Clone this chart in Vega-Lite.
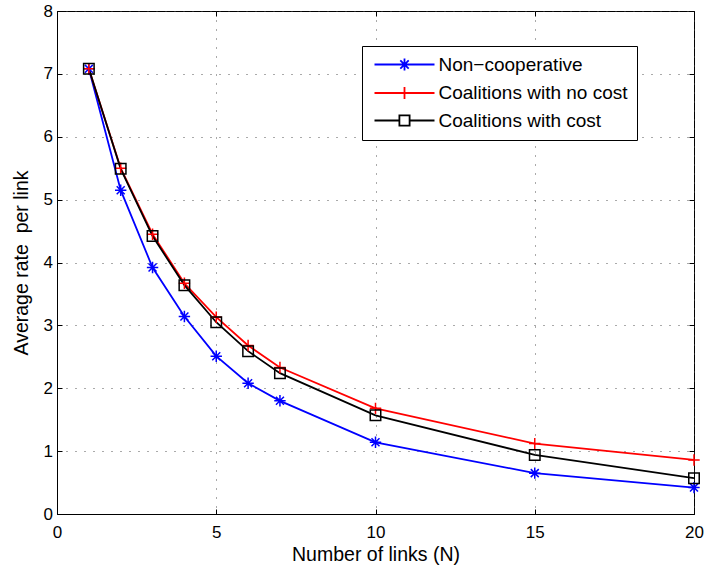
{
  "$schema": "https://vega.github.io/schema/vega-lite/v6.json",
  "width": 637,
  "height": 503,
  "autosize": {"type": "none"},
  "padding": {"left": 57, "top": 11, "right": 11, "bottom": 53},
  "background": "white",
  "config": {
    "font": "Liberation Sans",
    "view": {"stroke": "black", "strokeWidth": 1},
    "axis": {
      "domainColor": "black",
      "tickColor": "black",
      "labelColor": "black",
      "titleColor": "black",
      "labelFont": "Liberation Sans",
      "titleFont": "Liberation Sans",
      "labelFontSize": 17,
      "titleFontSize": 19.5,
      "titleFontWeight": "normal",
      "labelFlush": false,
      "tickSize": -5,
      "gridColor": "#444444",
      "gridDash": [1, 8],
      "gridWidth": 1,
      "gridOpacity": 0.9
    }
  },
  "data": {
    "values": [
      {"n": 1, "rate": 7.08, "series": "Non−cooperative"},
      {"n": 2, "rate": 5.15, "series": "Non−cooperative"},
      {"n": 3, "rate": 3.92, "series": "Non−cooperative"},
      {"n": 4, "rate": 3.14, "series": "Non−cooperative"},
      {"n": 5, "rate": 2.51, "series": "Non−cooperative"},
      {"n": 6, "rate": 2.08, "series": "Non−cooperative"},
      {"n": 7, "rate": 1.80, "series": "Non−cooperative"},
      {"n": 10, "rate": 1.14, "series": "Non−cooperative"},
      {"n": 15, "rate": 0.65, "series": "Non−cooperative"},
      {"n": 20, "rate": 0.42, "series": "Non−cooperative"},
      {"n": 1, "rate": 7.08, "series": "Coalitions with no cost"},
      {"n": 2, "rate": 5.50, "series": "Coalitions with no cost"},
      {"n": 3, "rate": 4.45, "series": "Coalitions with no cost"},
      {"n": 4, "rate": 3.67, "series": "Coalitions with no cost"},
      {"n": 5, "rate": 3.13, "series": "Coalitions with no cost"},
      {"n": 6, "rate": 2.68, "series": "Coalitions with no cost"},
      {"n": 7, "rate": 2.33, "series": "Coalitions with no cost"},
      {"n": 10, "rate": 1.68, "series": "Coalitions with no cost"},
      {"n": 15, "rate": 1.12, "series": "Coalitions with no cost"},
      {"n": 20, "rate": 0.86, "series": "Coalitions with no cost"},
      {"n": 1, "rate": 7.08, "series": "Coalitions with cost"},
      {"n": 2, "rate": 5.49, "series": "Coalitions with cost"},
      {"n": 3, "rate": 4.42, "series": "Coalitions with cost"},
      {"n": 4, "rate": 3.64, "series": "Coalitions with cost"},
      {"n": 5, "rate": 3.05, "series": "Coalitions with cost"},
      {"n": 6, "rate": 2.59, "series": "Coalitions with cost"},
      {"n": 7, "rate": 2.24, "series": "Coalitions with cost"},
      {"n": 10, "rate": 1.57, "series": "Coalitions with cost"},
      {"n": 15, "rate": 0.94, "series": "Coalitions with cost"},
      {"n": 20, "rate": 0.57, "series": "Coalitions with cost"}
    ]
  },
  "resolve": {"axis": {"x": "independent", "y": "independent"}},
  "layer": [
    {
      "layer": [
        {
          "mark": {"type": "line", "strokeWidth": 1.8, "clip": true},
          "encoding": {
            "x": {
              "field": "n", "type": "quantitative",
              "scale": {"domain": [0, 20], "nice": false},
              "axis": {"values": [0, 5, 10, 15, 20], "format": "d", "title": "Number of links (N)", "labelPadding": 15, "titlePadding": 5, "grid": true}
            },
            "y": {
              "field": "rate", "type": "quantitative",
              "scale": {"domain": [0, 8], "nice": false},
              "axis": {"values": [0, 1, 2, 3, 4, 5, 6, 7, 8], "format": "d", "title": "Average rate\u00a0 per link", "labelPadding": 9.5, "titlePadding": 12, "grid": true}
            },
            "color": {
              "field": "series", "type": "nominal",
              "scale": {
                "domain": ["Non−cooperative", "Coalitions with no cost", "Coalitions with cost"],
                "range": ["#0000ff", "#ff0000", "#000000"]
              },
              "legend": {
                "orient": "none",
                "legendX": 305,
                "legendY": 35,
                "title": null,
                "fillColor": "white",
                "strokeColor": "black",
                "padding": 9,
                "labelFont": "Liberation Sans",
                "labelFontSize": 19,
                "labelColor": "black",
                "labelLimit": 400,
                "labelOffset": 48.5,
                "rowPadding": 7.5,
                "symbolSize": 144,
                "symbolStrokeWidth": 1.8,
                "encode": {
                  "symbols": {
                    "update": {
                      "shape": {"signal": "datum.value === 'Non−cooperative' ? 'M-1,0H9M3,0H5M4,-1V1M3.3,-0.7L4.7,0.7M3.3,0.7L4.7,-0.7' : datum.value === 'Coalitions with no cost' ? 'M-1,0H9M4,-1V1' : 'M-1,0H3.15M4.85,0H9M3.15,-0.85H4.85V0.85H3.15Z'"},
                      "fill": {"value": "transparent"},
                      "strokeWidth": {"value": 1.8}
                    }
                  }
                }
              }
            }
          }
        },
        {
          "transform": [{"filter": "datum.series === 'Non−cooperative'"}],
          "mark": {"type": "point", "filled": false, "strokeWidth": 1.5, "size": 130, "color": "#0000ff", "opacity": 1,
                   "shape": "M-1,0H1M0,-1V1M-0.7,-0.7L0.7,0.7M-0.7,0.7L0.7,-0.7"},
          "encoding": {
            "x": {"field": "n", "type": "quantitative"},
            "y": {"field": "rate", "type": "quantitative"}
          }
        },
        {
          "transform": [{"filter": "datum.series === 'Coalitions with no cost'"}],
          "mark": {"type": "point", "filled": false, "strokeWidth": 1.5, "size": 130, "color": "#ff0000", "opacity": 1,
                   "shape": "M-1,0H1M0,-1V1"},
          "encoding": {
            "x": {"field": "n", "type": "quantitative"},
            "y": {"field": "rate", "type": "quantitative"}
          }
        },
        {
          "transform": [{"filter": "datum.series === 'Coalitions with cost'"}],
          "mark": {"type": "point", "filled": false, "strokeWidth": 1.5, "size": 110, "color": "#000000", "opacity": 1,
                   "shape": "square"},
          "encoding": {
            "x": {"field": "n", "type": "quantitative"},
            "y": {"field": "rate", "type": "quantitative"}
          }
        }
      ]
    },
    {
      "mark": {"type": "point", "opacity": 0},
      "encoding": {
        "x": {"field": "n", "type": "quantitative", "axis": {"orient": "top", "values": [0, 5, 10, 15, 20], "labels": false, "title": null, "grid": false, "domain": false}},
        "y": {"field": "rate", "type": "quantitative", "axis": {"orient": "right", "values": [0, 1, 2, 3, 4, 5, 6, 7, 8], "labels": false, "title": null, "grid": false, "domain": false}}
      }
    }
  ]
}
